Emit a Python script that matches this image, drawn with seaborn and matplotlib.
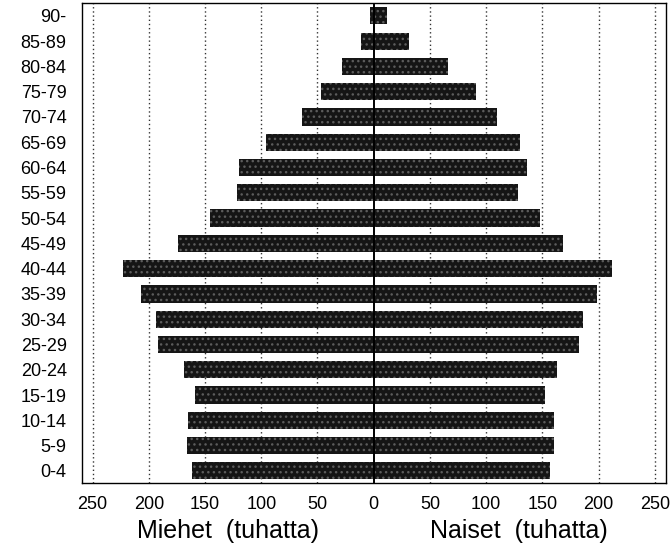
import matplotlib
matplotlib.use("Agg")
import matplotlib.pyplot as plt
import seaborn as sns
import pandas as pd
import numpy as np

ages = ["90-", "85-89", "80-84", "75-79", "70-74", "65-69", "60-64", "55-59",
        "50-54", "45-49", "40-44", "35-39", "30-34", "25-29", "20-24", "15-19",
        "10-14", "5-9", "0-4"]
men = [3, 11, 28, 47, 64, 96, 120, 122, 146, 174, 223, 207, 194, 192, 169, 159, 165, 166, 162]
women = [12, 31, 66, 91, 110, 130, 136, 128, 148, 168, 212, 199, 186, 183, 163, 152, 160, 160, 157]
xticks = [-250, -200, -150, -100, -50, 0, 50, 100, 150, 200, 250]
xticklabels = ["250", "200", "150", "100", "50", "0", "50", "100", "150", "200", "250"]
label_men = "Miehet  (tuhatta)"
label_women = "Naiset  (tuhatta)"

sns.set_theme(style="white")
plt.rcParams["font.family"] = ["Liberation Sans", "DejaVu Sans"]
plt.rcParams["hatch.linewidth"] = 1.0

df = pd.DataFrame({"age": ages, "men": [-m for m in men], "women": women})

fig = plt.figure(figsize=(6.71, 5.48), dpi=100)
ax = fig.add_axes([0.1222, 0.1186, 0.8703, 0.876])

for xv in [-250, -200, -150, -100, -50, 50, 100, 150, 200, 250]:
    ax.axvline(xv, color="#333333", lw=1.0, ls=(0, (1, 2)), zorder=0)

bar_kw = dict(orient="h", order=ages, width=0.68, saturation=1,
              color="#151515", edgecolor="#5c5c5c", linewidth=0, hatch="...", ax=ax)
sns.barplot(data=df, x="men", y="age", **bar_kw)
sns.barplot(data=df, x="women", y="age", **bar_kw)

ax.axvline(0, color="black", lw=1.4, zorder=5)

ax.set_xlim(-259.5, 260)
ax.set_ylim(18.48, -0.51)
ax.set_xticks(xticks)
ax.set_xticklabels(xticklabels, fontsize=13)
ax.tick_params(axis="x", length=0, pad=9)
ax.tick_params(axis="y", length=0, pad=11, labelsize=13)
for lbl in ax.get_yticklabels():
    lbl.set_color("black")
for lbl in ax.get_xticklabels():
    lbl.set_color("black")
ax.set_xlabel("")
ax.set_ylabel("")
for s in ax.spines.values():
    s.set_color("black")
    s.set_linewidth(1.0)

fig.text(228 / 671, 1 - 531 / 548, label_men, fontsize=18, ha="center", va="center", color="black")
fig.text(519 / 671, 1 - 531 / 548, label_women, fontsize=18, ha="center", va="center", color="black")

fig.savefig("out.png", dpi=100)
